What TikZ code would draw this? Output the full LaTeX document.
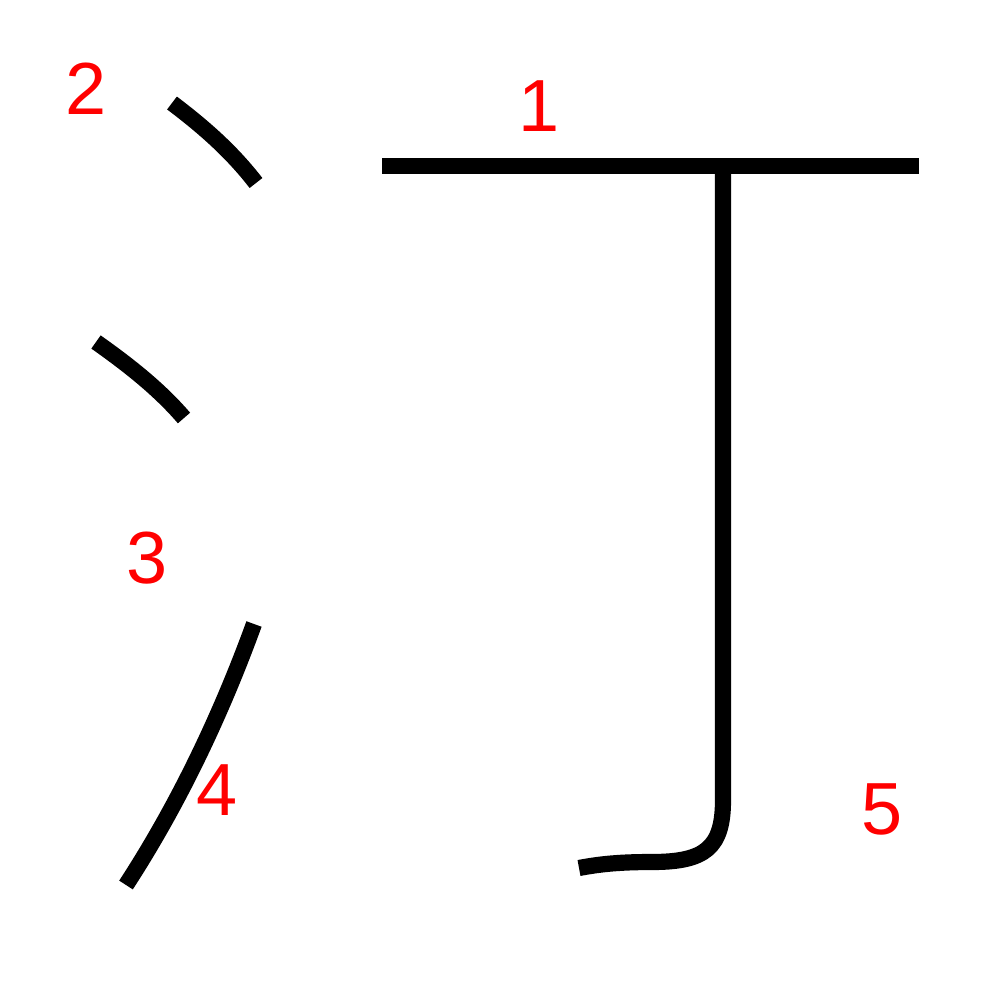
\documentclass[tikz,border=0pt]{standalone}
\usepackage{fontspec}
\setmainfont{Liberation Sans}
\begin{document}
\begin{tikzpicture}[x=0.01cm,y=-0.01cm,
  strokeline/.style={line width=4.6pt,black,line cap=butt},
  num/.style={text=red,font=\fontsize{21}{21}\selectfont,inner sep=0pt}]
\useasboundingbox (0,0) rectangle (1000,1000);
% stroke 1
\coordinate (s1a) at (382,166);
\coordinate (s1b) at (919,166);
\draw[strokeline] (s1a) -- (s1b);
% stroke 2
\coordinate (s2a) at (172,103);
\coordinate (s2b) at (256,183);
\draw[strokeline] (s2a) .. controls (205,128) and (232,152) .. (s2b);
% stroke 3
\coordinate (s3a) at (96,342);
\coordinate (s3b) at (184,418);
\draw[strokeline] (s3a) .. controls (130,366) and (160,390) .. (s3b);
% stroke 4
\coordinate (s4a) at (254,624);
\coordinate (s4b) at (126,885);
\draw[strokeline] (s4a) .. controls (222,712) and (180,802) .. (s4b);
% stroke 5
\coordinate (s5a) at (723,166);
\coordinate (s5b) at (723,800);
\coordinate (s5c) at (652,862);
\coordinate (s5d) at (579,868);
\draw[strokeline] (s5a) -- (s5b) .. controls (723,848) and (705,862) .. (s5c) .. controls (620,862) and (600,864) .. (s5d);
% numbers
\node[num] (n1) at (539,106) {1};
\node[num] (n2) at (86,89) {2};
\node[num] (n3) at (147,558) {3};
\node[num] (n4) at (217,790) {4};
\node[num] (n5) at (882,809) {5};
\end{tikzpicture}
\end{document}
